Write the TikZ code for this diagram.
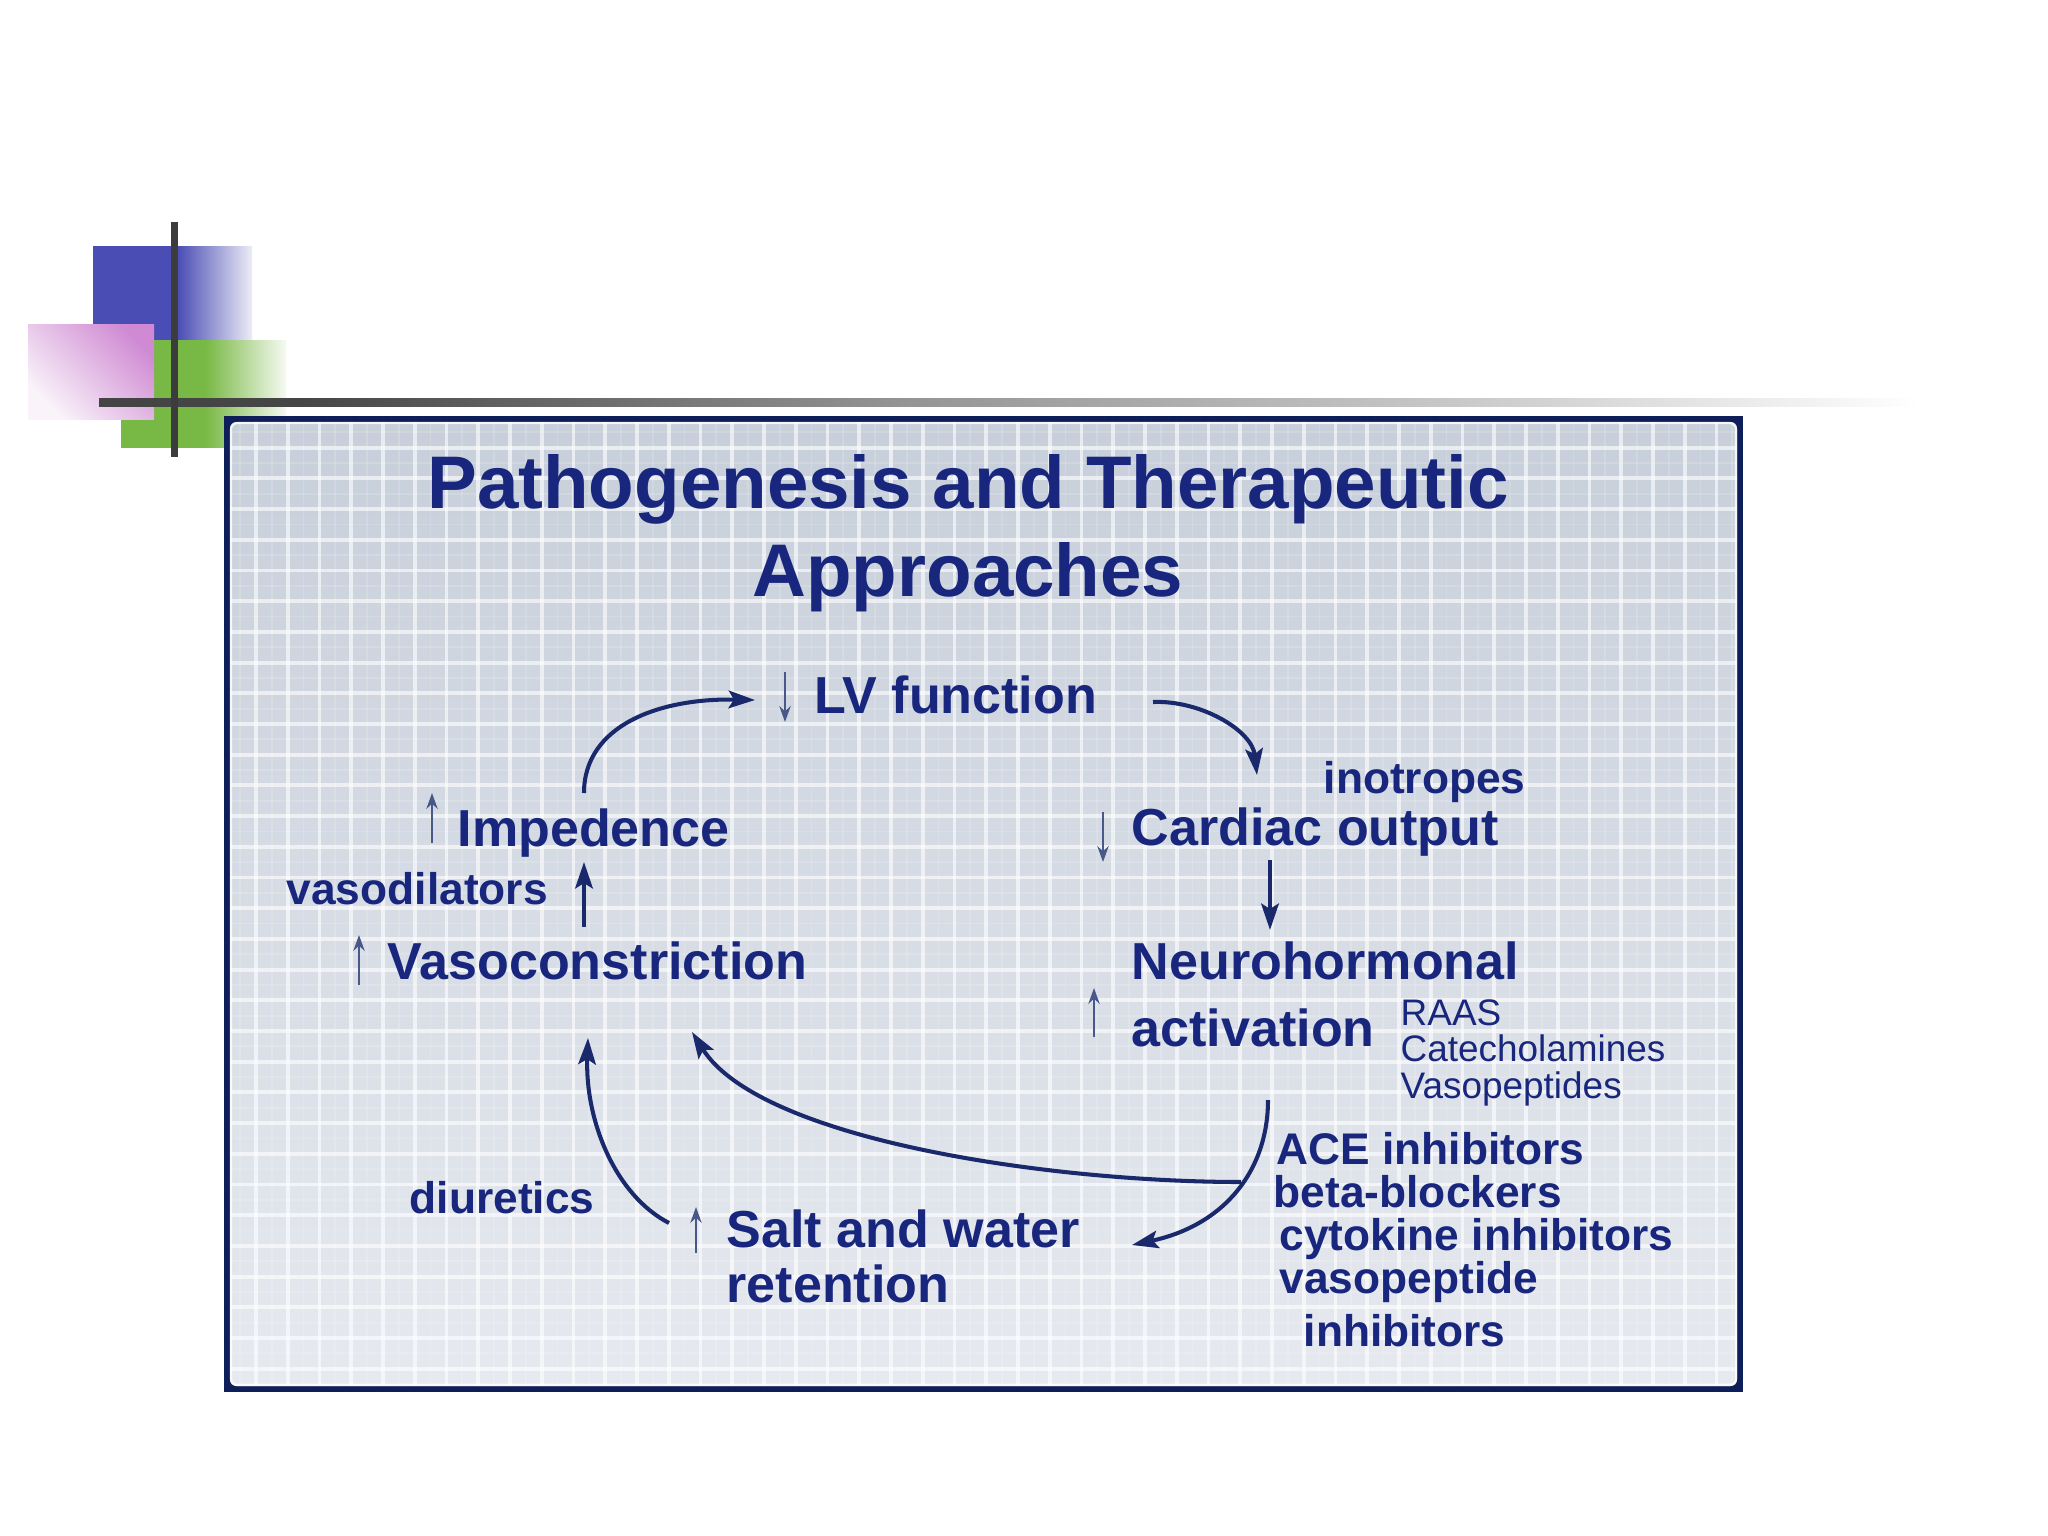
\documentclass[tikz,border=0pt]{standalone}
\usepackage{fontspec}
\setmainfont{Liberation Sans}
\usetikzlibrary{arrows.meta}
\definecolor{txt}{RGB}{24,38,126}
\definecolor{arrowc}{RGB}{26,40,108}
\definecolor{smallc}{RGB}{72,88,136}
\definecolor{navy}{RGB}{14,30,88}
\definecolor{bgTop}{RGB}{199,207,218}
\definecolor{bgBot}{RGB}{230,233,239}
\definecolor{decoBlue}{RGB}{74,77,180}
\definecolor{decoBlueEnd}{RGB}{236,236,247}
\definecolor{decoGreen}{RGB}{120,184,68}
\definecolor{decoGreenEnd}{RGB}{246,250,242}
\definecolor{decoPink}{RGB}{207,138,211}
\definecolor{decoPinkEnd}{RGB}{250,244,250}
\definecolor{lineDark}{RGB}{60,60,60}
\pgfdeclarehorizontalshading{blueshade}{100bp}{color(0bp)=(decoBlue); color(51.5bp)=(decoBlue); color(75bp)=(decoBlueEnd); color(100bp)=(decoBlueEnd)}
\pgfdeclarehorizontalshading{greenshade}{100bp}{color(0bp)=(decoGreen); color(50.5bp)=(decoGreen); color(75bp)=(decoGreenEnd); color(100bp)=(decoGreenEnd)}
\pgfdeclarehorizontalshading{lineshade}{100bp}{color(0bp)=(lineDark); color(30.5bp)=(lineDark!95!white); color(47bp)=(lineDark!55!white); color(62.3bp)=(lineDark!28!white); color(75bp)=(white); color(100bp)=(white)}
\tikzset{
  ttl/.style={font=\fontsize{21.2}{25}\selectfont\bfseries, text=txt, inner sep=0pt, anchor=base},
  lbl/.style={font=\fontsize{14.8}{17}\selectfont\bfseries, text=txt, inner sep=0pt, anchor=base west},
  drug/.style={font=\fontsize{12.6}{14}\selectfont\bfseries, text=txt, inner sep=0pt, anchor=base west},
  med/.style={font=\fontsize{10.5}{12}\selectfont, text=txt, inner sep=0pt, anchor=base west},
  conn/.style={draw=arrowc, line width=1.15pt, -{Stealth[length=7.5pt, width=5pt, inset=1.5pt]}},
  updn/.style={draw=smallc, line width=0.8pt, -{Stealth[length=4.5pt, width=3.2pt]}},
  gridmaj/.style={draw=white, line width=1.1pt, opacity=0.6},
  gridmin/.style={draw=white, line width=0.5pt, opacity=0.15}
}
\begin{document}
\begin{tikzpicture}[x=0.01cm, y=0.01cm]
\useasboundingbox (0,0) rectangle (2048,-1536);
\fill[white] (0,0) rectangle (2048,-1536);

% decoration
\shade[shading=blueshade] (93,-246) rectangle (252,-340);
\shade[shading=greenshade] (121,-340) rectangle (286,-447);
\shade[top color=decoPink, bottom color=decoPinkEnd, shading angle=-45] (28,-324) rectangle (154,-419);
\shade[shading=lineshade] (99,-398) rectangle (1920,-406);
\fill[lineDark] (170.5,-222) rectangle (177.5,-457);

% box
\fill[navy] (224,-416) rectangle (1743,-1392);
\shade[top color=bgTop, bottom color=bgBot, rounded corners=1.8pt] (230,-422) rectangle (1737,-1386);
\begin{scope}
  \clip[rounded corners=1.8pt] (230,-422) rectangle (1737,-1386);
  \foreach \i in {0,...,47} {
    \draw[gridmin] ({240.1+\i*31.75},-422) -- ++(0,-964);
  }
  \foreach \i in {0,...,31} {
    \draw[gridmin] (230,{-432.35-\i*30.7}) -- ++(1507,0);
  }
  \foreach \i in {0,...,46} {
    \draw[gridmaj] ({256+\i*31.75},-422) -- ++(0,-964);
  }
  \foreach \i in {0,...,30} {
    \draw[gridmaj] (230,{-447.7-\i*30.7}) -- ++(1507,0);
  }
\end{scope}
\draw[white, line width=0.6pt, opacity=0.8, rounded corners=1.8pt] (231,-423) rectangle (1736,-1385);

% title
\node[ttl] (t1) at (968,-508) {Pathogenesis and Therapeutic};
\node[ttl] (t2) at (968,-596) {Approaches};

% labels
\node[lbl] (lv) at (814,-713) {LV function};
\node[drug] (ino) at (1323,-793) {inotropes};
\node[lbl] (co) at (1131,-845) {Cardiac output};
\node[lbl] (imp) at (457,-846) {Impedence};
\node[drug] (vd) at (286,-904) {vasodilators};
\node[lbl] (vc) at (387,-979) {Vasoconstriction};
\node[lbl] (nh) at (1131,-979) {Neurohormonal};
\node[lbl] (nh2) at (1131,-1046) {activation};
\node[med] (raas) at (1400,-1025) {RAAS};
\node[med] (cat) at (1400,-1061) {Catecholamines};
\node[med] (vp) at (1400,-1098) {Vasopeptides};
\node[drug] (diu) at (409,-1213) {diuretics};
\node[lbl] (salt) at (726,-1247) {Salt and water};
\node[lbl] (ret) at (726,-1302) {retention};
\node[drug] (ace) at (1276,-1164) {ACE inhibitors};
\node[drug] (bb) at (1273,-1207) {beta-blockers};
\node[drug] (cyt) at (1279,-1250) {cytokine inhibitors};
\node[drug] (vpi) at (1279,-1293) {vasopeptide};
\node[drug] (inh) at (1303,-1346) {inhibitors};

% small up/down marks
\draw[updn] (785,-672) -- (785,-722);
\draw[updn] (1103,-812) -- (1103,-862);
\draw[updn] (432,-843) -- (432,-793);
\draw[updn] (359,-985) -- (359,-935);
\draw[updn] (1094,-1037) -- (1094,-988);
\draw[updn] (696,-1253) -- (696,-1207);

% connector end points
\coordinate (impTop) at (584,-793);
\coordinate (lvIn) at (755,-700);
\coordinate (lvOut) at (1153,-702);
\coordinate (coIn) at (1257,-775);
\coordinate (coOut) at (1270,-860);
\coordinate (nhIn) at (1270,-930);
\coordinate (vcOut) at (584,-927);
\coordinate (impIn) at (584,-862);
\coordinate (saltOut) at (669,-1223);
\coordinate (vcIn) at (588,-1038);
\coordinate (nhOut) at (1268,-1100);
\coordinate (saltIn) at (1132,-1245);
\coordinate (branch) at (1241,-1182);
\coordinate (vcIn2) at (692,-1032);

% connectors
\draw[conn] (impTop) .. controls (584,-725) and (660,-698) .. (lvIn);
\draw[conn] (lvOut) .. controls (1200,-700) and (1252,-730) .. (coIn);
\draw[conn] (coOut) -- (nhIn);
\draw[conn] (vcOut) -- (impIn);
\draw[conn] (saltOut) .. controls (615,-1195) and (585,-1120) .. (vcIn);
\draw[conn] (nhOut) .. controls (1268,-1170) and (1225,-1225) .. (saltIn);
\draw[conn] (branch) .. controls (1050,-1182) and (760,-1140) .. (vcIn2);
\end{tikzpicture}
\end{document}
